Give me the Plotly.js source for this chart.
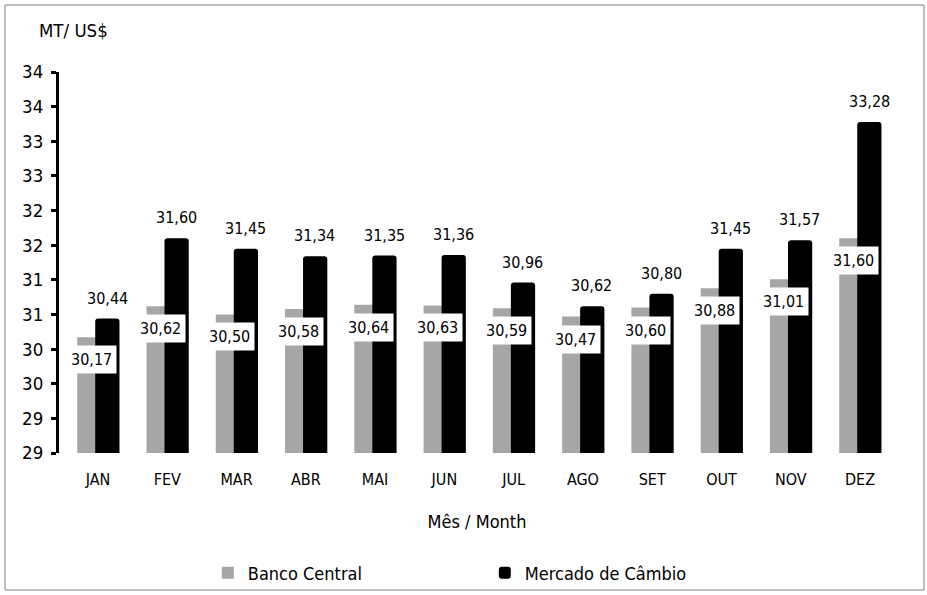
<!DOCTYPE html>
<html>
<head>
<meta charset="utf-8">
<script src="https://cdn.plot.ly/plotly-3.0.1.min.js"></script>
<style>html,body{margin:0;padding:0;background:#fff;}#chart{width:927px;height:595px;}</style>
</head>
<body>
<div id="chart"></div>
<script>
const months = ["JAN","FEV","MAR","ABR","MAI","JUN","JUL","AGO","SET","OUT","NOV","DEZ"];
const bancoCentral = [30.17,30.62,30.50,30.58,30.64,30.63,30.59,30.47,30.60,30.88,31.01,31.60];
const mercadoCambio = [30.44,31.60,31.45,31.34,31.35,31.36,30.96,30.62,30.80,31.45,31.57,33.28];
const yTickValues = [28.5,29,29.5,30,30.5,31,31.5,32,32.5,33,33.5,34];
const yTickLabels = ["29","29","30","30","31","31","32","32","33","33","34","34"];

const FONT = '"DejaVu Sans Condensed","DejaVu Sans",sans-serif';
const fmt = v => v.toFixed(2).replace('.', ',');

const traces = [
  {type:'bar', name:'Banco Central', x:months, y:bancoCentral,
   marker:{color:'#a6a6a6'}, width:0.33, offset:-0.30, hoverinfo:'skip'},
  {type:'bar', name:'Mercado de Câmbio', x:months, y:mercadoCambio,
   marker:{color:'#000000', cornerradius:3}, width:0.35, offset:-0.04, hoverinfo:'skip'}
];

const annotations = [];
months.forEach((m,i)=>{
  annotations.push({x:m, y:mercadoCambio[i], xref:'x', yref:'y', text:fmt(mercadoCambio[i]),
    showarrow:false, xshift:9, yshift:9, yanchor:'bottom', font:{family:FONT,size:16,color:'#000'}});
  annotations.push({x:m, y:bancoCentral[i], xref:'x', yref:'y', text:fmt(bancoCentral[i]),
    showarrow:false, xshift:-7, yshift:-8, yanchor:'top', bgcolor:'#ffffff', borderpad:4,
    font:{family:FONT,size:16,color:'#000'}});
});
annotations.push({xref:'paper', yref:'paper', x:-0.026, y:1.11, xanchor:'left', yanchor:'middle',
  text:'MT/ US$', showarrow:false, font:{family:FONT,size:18.5,color:'#000'}});

const layout = {
  width:927, height:595,
  margin:{l:59, r:32, t:72, b:142, autoexpand:false},
  paper_bgcolor:'#fff', plot_bgcolor:'#fff',
  barmode:'overlay',
  font:{family:FONT, size:16, color:'#000'},
  xaxis:{type:'category', range:[-0.563, 11.505], showline:false, showgrid:false, zeroline:false,
    automargin:false, ticks:'', ticklabelstandoff:15, tickfont:{family:FONT,size:16,color:'#000'},
    title:{text:'Mês / Month', standoff:27, font:{family:FONT,size:18,color:'#000'}}},
  yaxis:{range:[28.5,34], tickmode:'array', tickvals:yTickValues, ticktext:yTickLabels, automargin:false,
    showline:true, linecolor:'#000', linewidth:3, ticks:'outside', ticklen:5, tickwidth:3, tickcolor:'#000',
    showgrid:false, zeroline:false, ticklabelstandoff:4, tickfont:{family:FONT,size:18.5,color:'#000'}},
  showlegend:true,
  legend:{orientation:'h', x:0.178, y:-0.315, xanchor:'left', yanchor:'middle',
    entrywidth:232, entrywidthmode:'pixels', itemwidth:30, font:{family:FONT,size:18,color:'#000'}, bgcolor:'rgba(0,0,0,0)'},
  annotations:annotations,
  shapes:[{type:'rect', xref:'paper', yref:'paper', x0:(5-59)/836, x1:(924-59)/836,
    y0:(453-590)/381, y1:(453-5)/381, line:{color:'#808080', width:1}, fillcolor:'rgba(0,0,0,0)', layer:'below'}]
};

Plotly.newPlot('chart', traces, layout, {displayModeBar:false, staticPlot:true});
</script>
</body>
</html>
